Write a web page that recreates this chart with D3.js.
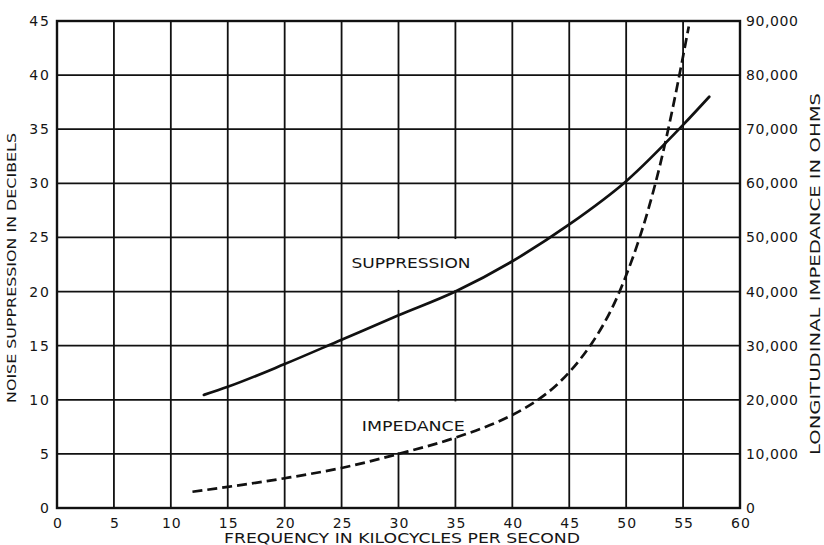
<!DOCTYPE html>
<html>
<head>
<meta charset="utf-8">
<script src="https://cdn.jsdelivr.net/npm/d3@7"></script>
<style>
  html, body { margin: 0; padding: 0; background: #fff; }
  svg { display: block; }
  text { font-family: "DejaVu Sans", sans-serif; fill: #151515; }
</style>
</head>
<body>
<svg id="chart" width="824" height="545"></svg>
<script>
// ---- data ----
const xTicks = [0, 5, 10, 15, 20, 25, 30, 35, 40, 45, 50, 55, 60];
const leftTicks = [0, 5, 10, 15, 20, 25, 30, 35, 40, 45];
const rightTicks = [0, 10000, 20000, 30000, 40000, 50000, 60000, 70000, 80000, 90000];

// Suppression (dB) vs frequency (kc)
const suppFreq = [12.9, 15, 20, 25, 30, 35, 40, 45, 50, 55, 57.3];
const suppDb   = [10.45, 11.2, 13.3, 15.55, 17.8, 20.0, 22.8, 26.2, 30.2, 35.4, 38.0];

// Longitudinal impedance (ohms) vs frequency (kc)
const impFreq = [11.9, 15, 20, 25, 30, 35, 40, 41, 42, 43, 44, 45, 46, 47, 48, 49, 50, 51, 52, 53, 54, 55, 55.5];
const impOhms = [3000, 3900, 5500, 7400, 10000, 13000, 17200, 18350, 19650, 21150, 22950, 25100,
                 27600, 30500, 33900, 38000, 43000, 48800, 55600, 63600, 73000, 83500, 89000];

const xTitle = "FREQUENCY IN KILOCYCLES PER SECOND";
const yLeftTitle = "NOISE SUPPRESSION IN DECIBELS";
const yRightTitle = "LONGITUDINAL IMPEDANCE IN OHMS";
const suppLabel = "SUPPRESSION";
const impLabel = "IMPEDANCE";

// ---- layout ----
const svg = d3.select("#chart");
const L = 57, R = 740, T = 21, B = 508;
const x = d3.scaleLinear().domain([0, 60]).range([L, R]);
const yL = d3.scaleLinear().domain([0, 45]).range([B, T]);
const yR = d3.scaleLinear().domain([0, 90000]).range([B, T]);
const ink = "#111";

const supp = suppFreq.map((f, i) => ({ f, v: suppDb[i] }));
const imp = impFreq.map((f, i) => ({ f, v: impOhms[i] }));

// grid
const grid = svg.append("g").attr("stroke", ink).attr("stroke-width", 1.8);
grid.selectAll("line.v").data(xTicks).join("line")
  .attr("x1", d => x(d)).attr("x2", d => x(d)).attr("y1", T).attr("y2", B);
grid.selectAll("line.h").data(leftTicks).join("line")
  .attr("y1", d => yL(d)).attr("y2", d => yL(d)).attr("x1", L).attr("x2", R);

// white backgrounds behind the in-plot labels
const pad = 1.6;
svg.append("rect")
  .attr("x", x(25) + pad).attr("y", yL(25) + pad)
  .attr("width", x(40) - x(25) - 2 * pad).attr("height", yL(20) - yL(25) - 2 * pad)
  .attr("fill", "#fff");

const defs = svg.append("defs");
const clipArea = d3.area().x(d => x(d.f)).y0(d => yR(d.v)).y1(0).curve(d3.curveMonotoneX);
defs.append("clipPath").attr("id", "aboveImp").append("path").attr("d", clipArea(imp));
svg.append("rect")
  .attr("x", x(25) + pad).attr("y", yL(10) + pad)
  .attr("width", x(40) - x(25) - 2 * pad).attr("height", yL(5) - yL(10) - 2 * pad)
  .attr("fill", "#fff").attr("clip-path", "url(#aboveImp)");

// border
svg.append("rect").attr("x", L).attr("y", T).attr("width", R - L).attr("height", B - T)
  .attr("fill", "none").attr("stroke", ink).attr("stroke-width", 2.4);

// curves
const lineS = d3.line().x(d => x(d.f)).y(d => yL(d.v)).curve(d3.curveMonotoneX);
const lineI = d3.line().x(d => x(d.f)).y(d => yR(d.v)).curve(d3.curveMonotoneX);
svg.append("path").attr("d", lineS(supp)).attr("fill", "none")
  .attr("stroke", ink).attr("stroke-width", 2.7).attr("stroke-linecap", "round");
svg.append("path").attr("d", lineI(imp)).attr("fill", "none")
  .attr("stroke", ink).attr("stroke-width", 2.7).attr("stroke-dasharray", "10,5");

// tick labels
svg.append("g").selectAll("text").data(xTicks).join("text")
  .attr("x", d => x(d) + 1).attr("y", 528)
  .attr("text-anchor", "middle").attr("font-size", 14).attr("letter-spacing", 1)
  .text(d => d);
svg.append("g").selectAll("text").data(leftTicks).join("text")
  .attr("x", 51).attr("y", d => yL(d)).attr("dy", "0.36em")
  .attr("text-anchor", "end").attr("font-size", 14).attr("letter-spacing", 2)
  .text(d => d);
svg.append("g").selectAll("text").data(rightTicks).join("text")
  .attr("x", 746).attr("y", d => yR(d)).attr("dy", "0.36em")
  .attr("text-anchor", "start").attr("font-size", 14).attr("letter-spacing", 0.6)
  .text(d => d3.format(",")(d));

// axis titles
svg.append("text").attr("transform", "translate(16,268) rotate(-90)")
  .attr("text-anchor", "middle").attr("font-size", 13)
  .attr("textLength", 270).attr("lengthAdjust", "spacingAndGlyphs").text(yLeftTitle);
svg.append("text").attr("transform", "translate(820,274) rotate(-90)")
  .attr("text-anchor", "middle").attr("font-size", 14.5)
  .attr("textLength", 362).attr("lengthAdjust", "spacingAndGlyphs").text(yRightTitle);
svg.append("text").attr("x", 402).attr("y", 543)
  .attr("text-anchor", "middle").attr("font-size", 14)
  .attr("textLength", 356).attr("lengthAdjust", "spacingAndGlyphs").text(xTitle);

// in-plot labels
svg.append("text").attr("x", x(31.1)).attr("y", 268)
  .attr("text-anchor", "middle").attr("font-size", 14.5)
  .attr("textLength", 119).attr("lengthAdjust", "spacingAndGlyphs").text(suppLabel);
svg.append("text").attr("x", x(31.3)).attr("y", 431)
  .attr("text-anchor", "middle").attr("font-size", 14.5)
  .attr("textLength", 103).attr("lengthAdjust", "spacingAndGlyphs").text(impLabel);
</script>
</body>
</html>
